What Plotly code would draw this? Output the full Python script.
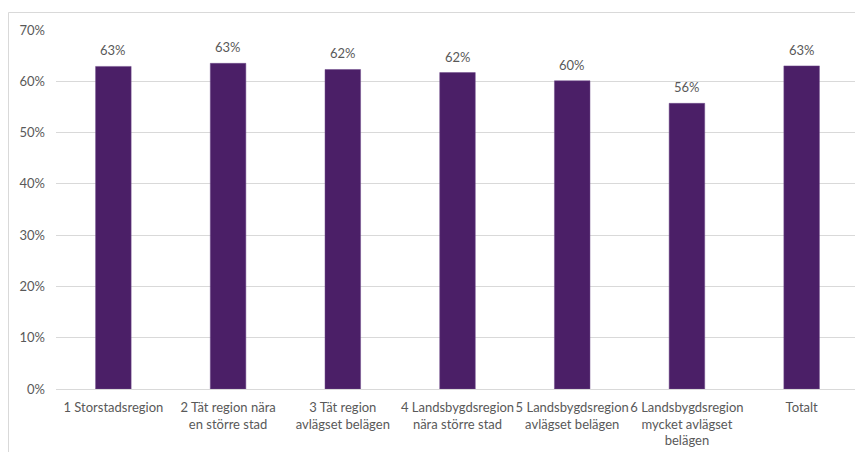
import plotly.graph_objects as go

categories = [
    "1 Storstadsregion",
    "2 Tät region nära<br>en större stad",
    "3 Tät region<br>avlägset belägen",
    "4 Landsbygdsregion<br>nära större stad",
    "5 Landsbygdsregion<br>avlägset belägen",
    "6 Landsbygdsregion<br>mycket avlägset<br>belägen",
    "Totalt",
]
values = [0.629, 0.635, 0.623, 0.617, 0.601, 0.557, 0.630]
labels = ["63%", "63%", "62%", "62%", "60%", "56%", "63%"]

# page body has an 8px margin, so the figure is drawn 8px in from the window edge
W, H = 855, 444
L, R, T, B = 48, 4, 22, 63
FONT = "Lato, Open Sans, sans-serif"
GREY = "#595959"
PW, PH = W - L - R, H - T - B

fig = go.Figure(go.Bar(
    x=categories, y=values,
    marker=dict(color="#4B1F67", line=dict(color="#6E4A8A", width=0.5)),
    cliponaxis=False,
))

annotations = [
    dict(x=c, y=v, text=t, showarrow=False, xref="x", yref="y",
         yanchor="bottom", yshift=6,
         font=dict(family=FONT, size=13, color=GREY))
    for c, v, t in zip(categories, values, labels)
]

fig.update_layout(
    width=W, height=H,
    margin=dict(l=L, r=R, t=T, b=B, pad=0, autoexpand=False),
    paper_bgcolor="white", plot_bgcolor="white",
    bargap=0.69,
    showlegend=False,
    font=dict(family=FONT, size=13, color=GREY),
    xaxis=dict(
        automargin=False,
        showgrid=False, showline=True, linecolor="#D9D9D9", linewidth=1,
        ticks="", tickfont=dict(family=FONT, size=13, color=GREY), tickangle=0,
        ticklabelstandoff=6,
    ),
    yaxis=dict(
        automargin=False,
        range=[0, 0.7], dtick=0.1, tickformat=".0%",
        showgrid=True, gridcolor="#D9D9D9", gridwidth=1,
        zeroline=False, showline=False, ticks="",
        ticklabelstandoff=10,
        tickfont=dict(family=FONT, size=13, color=GREY),
    ),
    annotations=annotations,
    shapes=[
        dict(type="line", xref="paper", yref="paper",
             x0=-(L - 0.5) / PW, x1=(W - L) / PW + 0.01,
             y0=(H - B - 4.5) / PH, y1=(H - B - 4.5) / PH,
             line=dict(color="#D9D9D9", width=1)),
        dict(type="line", xref="paper", yref="paper",
             x0=-(L - 0.5) / PW, x1=-(L - 0.5) / PW,
             y0=(H - B - 4.5) / PH, y1=-B / PH - 0.01,
             line=dict(color="#D9D9D9", width=1)),
    ],
)

fig.write_html("out.html")
